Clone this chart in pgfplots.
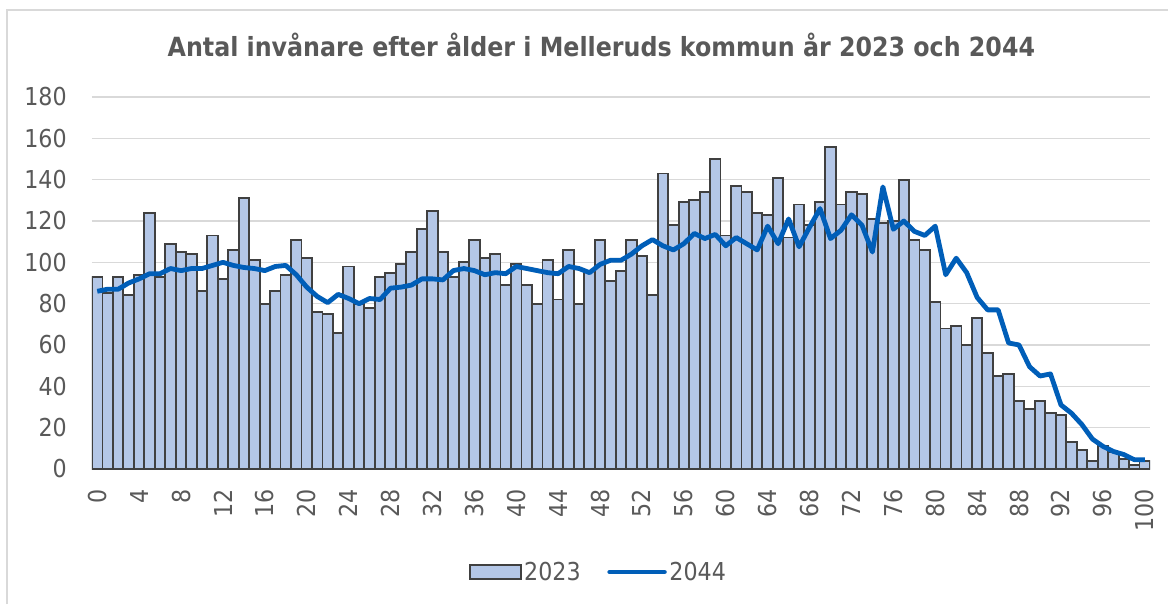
\documentclass[border=0pt]{standalone}
\usepackage{pgfplots}
\pgfplotsset{compat=1.18}
\usepackage{pgfplotstable}
\usepackage{fontspec}
\setmainfont{DejaVu Sans Condensed}
\definecolor{barfill}{HTML}{B4C7E7}
\definecolor{baredge}{HTML}{404040}
\definecolor{linecol}{HTML}{005EB8}
\definecolor{txt}{HTML}{595959}
\definecolor{gridc}{HTML}{D9D9D9}
\pgfplotstableread{
age a b
0 93 86
1 85 87
2 93 87
3 84 90
4 94 92
5 124 94.5
6 93 94.5
7 109 97
8 105 96
9 104 97
10 86 97
11 113 98.5
12 92 100
13 106 98.5
14 131 97.5
15 101 97
16 80 96
17 86 98
18 94 98.5
19 111 94
20 102 88
21 76 83.5
22 75 80.5
23 66 84.5
24 98 82.5
25 80 80
26 78 82.5
27 93 82
28 95 87.5
29 99 88
30 105 89
31 116 92
32 125 92
33 105 91.5
34 93 96
35 100 97
36 111 96
37 102 94
38 104 95
39 89 94.5
40 99 98
41 89 97
42 80 96
43 101 95
44 82 94.5
45 106 98
46 80 97
47 96 95
48 111 99
49 91 101
50 96 101
51 111 104
52 103 108
53 84 111
54 143 108
55 118 106
56 129 109
57 130 114
58 134 111.5
59 150 113.5
60 113 108
61 137 112
62 134 109
63 124 106
64 123 117.5
65 141 109
66 112 121
67 128 107.5
68 118 117
69 129 126
70 156 111.5
71 128 115.5
72 134 123
73 133 118
74 121 105
75 119 136.5
76 120 116
77 140 120
78 111 115
79 106 113
80 81 117.5
81 68 94
82 69 102
83 60 95
84 73 83
85 56 77
86 45 77
87 46 61
88 33 60
89 29 49.5
90 33 45
91 27 46
92 26 31
93 13 27
94 9 21.5
95 4 14.5
96 11 11
97 8 8.5
98 5 7
99 2 4.5
100 4 4.5
}\data
\begin{document}
\begin{tikzpicture}
\path[use as bounding box] (0,0) rectangle (876pt,453pt);
\draw[gridc, line width=1.5pt] (5.25pt,0) -- (5.25pt,445.5pt) -- (876pt,445.5pt);
\node[text=txt, font=\fontsize{19.8}{22}\selectfont\bfseries] at (451pt,419.25pt) {Antal invånare efter ålder i Melleruds kommun år 2023 och 2044};
\begin{axis}[
  at={(69pt,101.25pt)}, anchor=south west,
  scale only axis, width=793.5pt, height=279pt,
  xmin=-0.5, xmax=100.5, ymin=0, ymax=180,
  xtick={0,4,...,100}, ytick={0,20,...,180},
  ymajorgrids, major grid style={gridc, line width=1pt},
  axis line style={draw=none},
  major tick length=0pt,
  tick label style={font=\fontsize{18.5}{20}\selectfont, text=txt},
  /pgf/number format/assume math mode=true,
  yticklabel style={inner sep=0pt, xshift=-18.75pt},
  xticklabel style={yshift=-15pt, rotate=90, anchor=east, inner sep=0pt},
  legend style={at={(0.479,-0.277)}, anchor=center, draw=none,
    font=\fontsize{18.5}{20}\selectfont, text=txt, legend columns=2,
    /tikz/every even column/.append style={column sep=18pt}},
]
\addplot[ybar, bar width=1, fill=barfill, draw=baredge, line width=1.4pt,
  legend image code/.code={\draw[fill=barfill, draw=baredge, line width=1.4pt] (0pt,-5.25pt) rectangle (38pt,5.25pt);}]
  table[x=age, y=a]{\data};
\addlegendentry{2023}
\addplot[sharp plot, no marks, draw=linecol, line width=3.6pt, line join=round,
  legend image code/.code={\draw[linecol, line width=3.6pt, line cap=round] (0pt,0pt) -- (41pt,0pt);}]
  table[x=age, y=b]{\data};
\addlegendentry{2044}
\end{axis}
\end{tikzpicture}
\end{document}
